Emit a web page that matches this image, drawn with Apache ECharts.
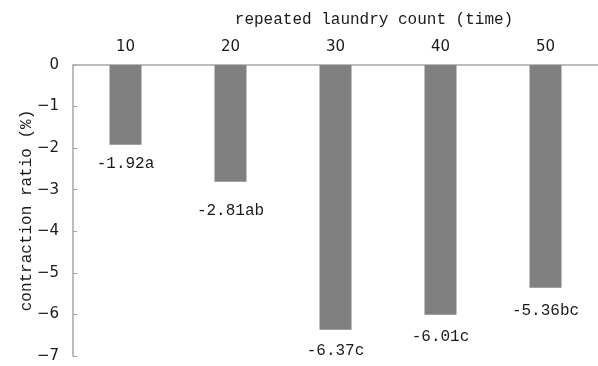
<!DOCTYPE html>
<html>
<head>
<meta charset="utf-8">
<script src="https://cdn.jsdelivr.net/npm/echarts@6/dist/echarts.min.js"></script>
<style>
  html, body { margin: 0; padding: 0; background: #fff; }
  #chart { width: 598px; height: 366px; }
</style>
</head>
<body>
<div id="chart"></div>
<script>
// Laundry repetitions and the resulting shrinkage
const counts = ['10', '20', '30', '40', '50'];
const ratios = [-1.92, -2.81, -6.37, -6.01, -5.36];
const groups = ['a', 'ab', 'c', 'c', 'bc'];
const labelGaps = [11, 21, 13, 14, 15];

const mono = '"Liberation Mono", "DejaVu Sans Mono", monospace';
const sans = '"DejaVu Sans", sans-serif';
const axisGrey = '#a6a6a6';
const ink = '#1a1a1a';

const chart = echarts.init(document.getElementById('chart'), null, { renderer: 'canvas' });

chart.setOption({
  animation: false,
  backgroundColor: '#fff',
  title: {
    text: 'repeated laundry count (time)',
    left: 369,
    top: 7,
    textAlign: 'center',
    textStyle: { fontFamily: mono, fontSize: 16, fontWeight: 'normal', color: ink }
  },
  grid: { left: 73, right: 0, top: 65, bottom: 10 },
  xAxis: {
    type: 'category',
    position: 'top',
    data: counts,
    axisLine: { lineStyle: { color: axisGrey, width: 1.5 } },
    axisTick: { show: false },
    axisLabel: { margin: 10, fontFamily: sans, fontSize: 15, color: ink }
  },
  yAxis: {
    type: 'value',
    min: -7,
    max: 0,
    interval: 1,
    name: 'contraction ratio (%)',
    nameLocation: 'middle',
    nameGap: 38,
    nameMoveOverlap: false,
    nameTextStyle: { fontFamily: mono, fontSize: 16, color: ink },
    axisLine: { show: true, lineStyle: { color: axisGrey, width: 1.5 } },
    axisTick: { show: true, inside: true, length: 4, lineStyle: { color: axisGrey } },
    splitLine: { show: false },
    axisLabel: {
      margin: 14,
      fontFamily: sans,
      fontSize: 15,
      color: ink,
      formatter: v => String(v).replace('-', '\u2212')
    }
  },
  series: [{
    type: 'bar',
    barWidth: 32,
    itemStyle: { color: '#808080' },
    data: ratios.map((v, i) => ({
      value: v,
      label: {
        show: true,
        position: 'bottom',
        distance: labelGaps[i],
        formatter: v.toFixed(2) + groups[i],
        fontFamily: mono,
        fontSize: 16,
        color: ink
      }
    }))
  }]
});
</script>
</body>
</html>
